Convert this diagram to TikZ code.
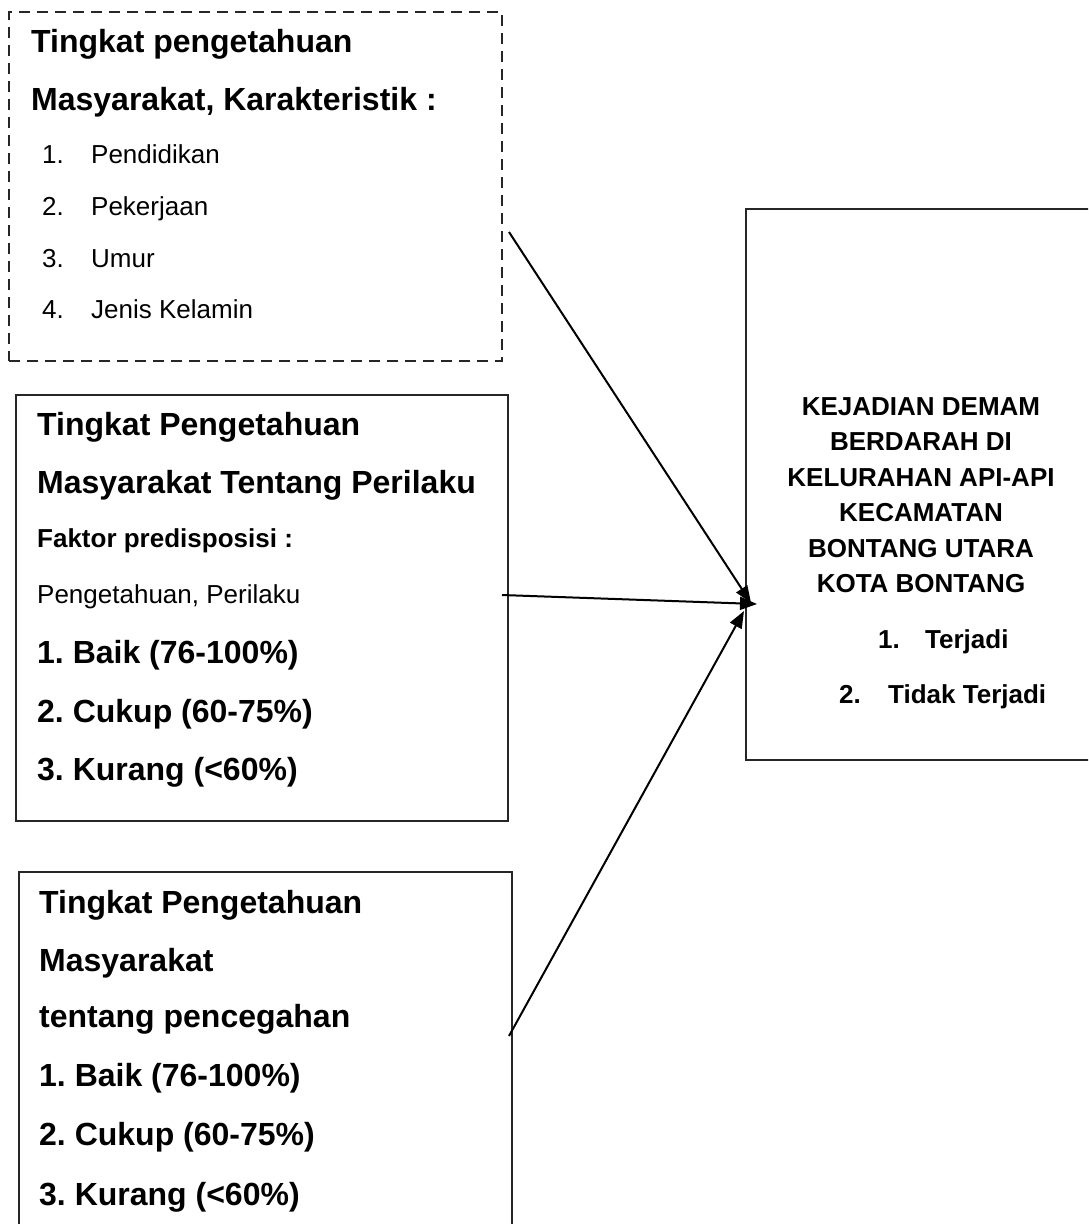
\documentclass[tikz,border=0pt]{standalone}
\usepackage{fontspec}
\setmainfont{Liberation Sans}
\usetikzlibrary{arrows.meta}
\begin{document}
\frenchspacing
\begin{tikzpicture}[x=1pt,y=-1pt,
 box/.style={draw=black!85,line width=1.5pt,inner sep=0pt,outer sep=0pt,rectangle},
 dbox/.style={box,dash pattern=on 11pt off 7pt},
 conn/.style={line width=2pt,-{Triangle[length=17pt,width=13pt]}},
 big/.style={anchor=base west,inner sep=0pt,font=\fontsize{32}{38}\selectfont\bfseries},
 small/.style={anchor=base west,inner sep=0pt,font=\fontsize{26}{31}\selectfont},
 smallb/.style={anchor=base west,inner sep=0pt,font=\fontsize{26}{31}\selectfont\bfseries},
 outt/.style={anchor=base,inner sep=0pt,font=\fontsize{26}{31}\selectfont\bfseries}]
\clip (0,0) rectangle (1088,1224);
\fill[white] (0,0) rectangle (1088,1224);
% boxes
\node[dbox,minimum width=493pt,minimum height=349pt] (dash) at (255.5,186.5) {};
\node[box,minimum width=492pt,minimum height=426pt] (perilaku) at (262,608) {};
\node[box,minimum width=493pt,minimum height=388pt] (cegah) at (265.5,1066) {};
\node[box,minimum width=354pt,minimum height=551pt] (out) at (923,484.5) {};
% dashed box text
\node[big] (d1) at (31,52) {Tingkat pengetahuan};
\node[big] (d2) at (31,110) {Masyarakat, Karakteristik :};
\node[small] (dn1) at (42,163) {1.};
\node[small] (dt1) at (91,163) {Pendidikan};
\node[small] (dn2) at (42,215) {2.};
\node[small] (dt2) at (91,215) {Pekerjaan};
\node[small] (dn3) at (42,267) {3.};
\node[small] (dt3) at (91,267) {Umur};
\node[small] (dn4) at (42,318) {4.};
\node[small] (dt4) at (91,318) {Jenis Kelamin};
% box 2 text
\node[big] (p1) at (37,435) {Tingkat Pengetahuan};
\node[big] (p2) at (37,493) {Masyarakat Tentang Perilaku};
\node[smallb] (p3) at (37,547) {Faktor predisposisi :};
\node[small] (p4) at (37,603) {Pengetahuan, Perilaku};
\node[big] (p5) at (37,663) {1. Baik (76-100\%)};
\node[big] (p6) at (37,722) {2. Cukup (60-75\%)};
\node[big] (p7) at (37,780) {3. Kurang (<60\%)};
% box 3 text
\node[big] (c1) at (39,913) {Tingkat Pengetahuan};
\node[big] (c2) at (39,971) {Masyarakat};
\node[big] (c3) at (39,1027) {tentang pencegahan};
\node[big] (c4) at (39,1086) {1. Baik (76-100\%)};
\node[big] (c5) at (39,1145) {2. Cukup (60-75\%)};
\node[big] (c6) at (39,1205) {3. Kurang (<60\%)};
% outcome text
\node[outt] (o1) at (921,415) {KEJADIAN DEMAM};
\node[outt] (o2) at (921,450) {BERDARAH DI};
\node[outt] (o3) at (921,486) {KELURAHAN API-API};
\node[outt] (o4) at (921,521) {KECAMATAN};
\node[outt] (o5) at (921,557) {BONTANG UTARA};
\node[outt] (o6) at (921,592) {KOTA BONTANG};
\node[smallb] (on1) at (878,648) {1.};
\node[smallb] (ot1) at (925,648) {Terjadi};
\node[smallb] (on2) at (839,703) {2.};
\node[smallb] (ot2) at (888,703) {Tidak Terjadi};
% connectors
\coordinate (s1) at (509,232);
\coordinate (t1) at (751,603);
\coordinate (s2) at (502,595);
\coordinate (t2) at (757,604);
\coordinate (s3) at (509,1036);
\coordinate (t3) at (744,611);
\draw[conn] (s1) -- (t1);
\draw[conn] (s2) -- (t2);
\draw[conn] (s3) -- (t3);
\end{tikzpicture}
\end{document}
